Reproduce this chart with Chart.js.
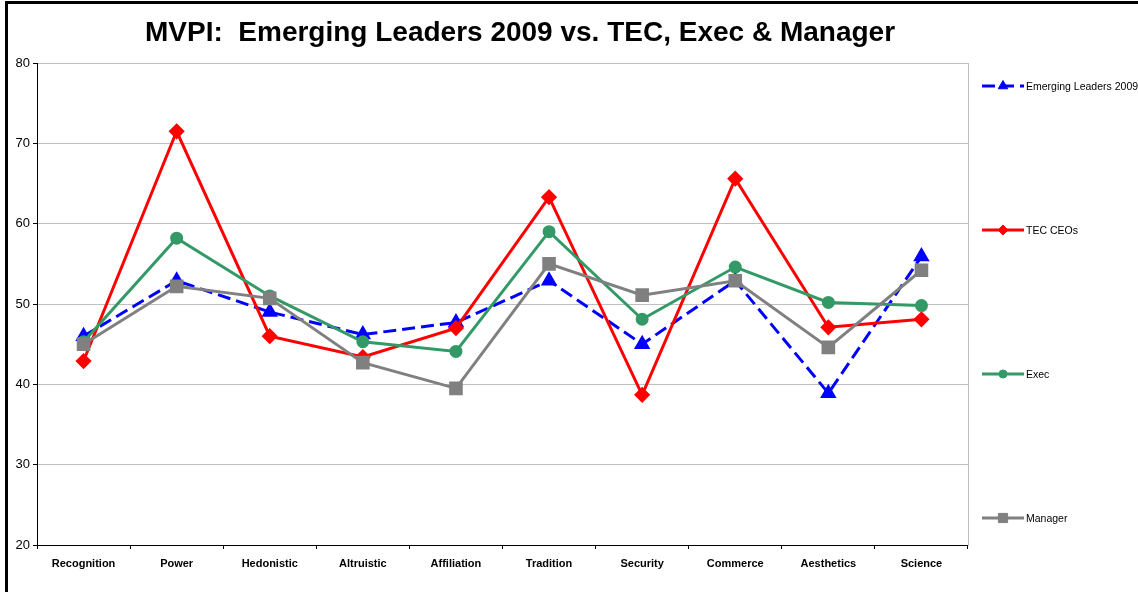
<!DOCTYPE html>
<html>
<head>
<meta charset="utf-8">
<script src="https://cdn.jsdelivr.net/npm/chart.js@4/dist/chart.umd.min.js"></script>
<style>
  html, body { margin: 0; padding: 0; background: #fff; overflow: hidden; }
  #wrap { position: relative; width: 1138px; height: 592px; }
  #frame { position: absolute; left: 5px; top: 1px; width: 2000px; height: 2000px;
           border-left: 3px solid #000; border-top: 3px solid #000; pointer-events: none; }
</style>
</head>
<body>
<div id="wrap">
  <canvas id="c" width="1138" height="592"></canvas>
  <div id="frame"></div>
</div>
<script>
const titleText = 'MVPI:  Emerging Leaders 2009 vs. TEC, Exec & Manager';
const categories = ['Recognition','Power','Hedonistic','Altruistic','Affiliation','Tradition','Security','Commerce','Aesthetics','Science'];
const seriesNames = ['Emerging Leaders 2009','TEC CEOs','Exec','Manager'];
const emergingLeaders = [46.0, 52.9, 49.0, 46.2, 47.7, 52.9, 45.0, 52.9, 38.9, 55.9];
const tecCEOs = [42.9, 71.5, 46.0, 43.4, 47.0, 63.3, 38.7, 65.6, 47.1, 48.1];
const execValues = [45.3, 58.2, 51.0, 45.3, 44.1, 59.0, 48.1, 54.6, 50.2, 49.8];
const managerValues = [45.0, 52.2, 50.7, 42.7, 39.5, 55.0, 51.1, 52.9, 44.6, 54.2];
const yMin = 20, yMax = 80, yStep = 10;

const legendY = [86, 230, 374, 518];

const legendPlugin = {
  id: 'sideLegend',
  afterDraw(chart) {
    const ctx = chart.ctx;
    chart.data.datasets.forEach((ds, i) => {
      const y = legendY[i];
      ctx.save();
      ctx.strokeStyle = ds.borderColor;
      ctx.lineWidth = ds.borderWidth;
      ctx.setLineDash(ds.borderDash || []);
      ctx.beginPath();
      ctx.moveTo(982, y);
      ctx.lineTo(1024, y);
      ctx.stroke();
      ctx.setLineDash([]);
      ctx.fillStyle = ds.pointBackgroundColor;
      ctx.strokeStyle = ds.pointBorderColor;
      ctx.lineWidth = 1;
      Chart.helpers.drawPoint(ctx, {pointStyle: ds.pointStyle, radius: ds.pointRadius - 1, rotation: 0, borderWidth: 1}, 1003, y);
      ctx.fillStyle = '#000';
      ctx.font = '10.5px "Liberation Sans", Arial, sans-serif';
      ctx.textBaseline = 'middle';
      ctx.textAlign = 'left';
      ctx.fillText(ds.label, 1026, y + 1);
      ctx.restore();
    });
  }
};

new Chart(document.getElementById('c'), {
  type: 'line',
  data: {
    labels: categories,
    datasets: [
      { label: seriesNames[0], data: emergingLeaders, borderColor: '#0000ff', backgroundColor: '#0000ff',
        pointBackgroundColor: '#0000ff', pointBorderColor: '#0000ff', borderWidth: 3, borderDash: [13, 6],
        pointStyle: 'triangle', pointRadius: 6.5, order: 3, tension: 0 },
      { label: seriesNames[1], data: tecCEOs, borderColor: '#ff0000', backgroundColor: '#ff0000',
        pointBackgroundColor: '#ff0000', pointBorderColor: '#ff0000', borderWidth: 3,
        pointStyle: 'rectRot', pointRadius: 6, order: 2, tension: 0 },
      { label: seriesNames[2], data: execValues, borderColor: '#339966', backgroundColor: '#339966',
        pointBackgroundColor: '#339966', pointBorderColor: '#339966', borderWidth: 3,
        pointStyle: 'circle', pointRadius: 5, order: 1, tension: 0 },
      { label: seriesNames[3], data: managerValues, borderColor: '#808080', backgroundColor: '#808080',
        pointBackgroundColor: '#808080', pointBorderColor: '#808080', borderWidth: 3,
        pointStyle: 'rect', pointRadius: 7.5, order: 0, tension: 0 }
    ]
  },
  options: {
    responsive: false,
    animation: false,
    events: [],
    layout: { padding: { left: 0, top: 0, right: 98, bottom: 0 } },
    plugins: {
      legend: { display: false },
      tooltip: { enabled: false },
      title: {
        display: true,
        text: titleText,
        color: '#000',
        font: { family: '"Liberation Sans", Arial, sans-serif', size: 28, weight: 'bold', lineHeight: 1.2 },
        padding: { top: 16.2, bottom: 13.2 }
      }
    },
    scales: {
      x: {
        offset: true,
        grid: { offset: true, drawOnChartArea: false, drawTicks: true, tickLength: 4, tickColor: '#000', color: '#000' },
        border: { display: true, color: '#000', width: 1 },
        ticks: { color: '#000', padding: 8, maxRotation: 0, autoSkip: false,
                 font: { family: '"Liberation Sans", Arial, sans-serif', size: 11, weight: 'bold' } },
        afterFit: s => { s.height = 47; }
      },
      y: {
        min: yMin, max: yMax,
        grid: { color: '#c0c0c0', lineWidth: 1, tickLength: 4, tickColor: '#000' },
        border: { display: true, color: '#000', width: 1 },
        ticks: { stepSize: yStep, color: '#000', padding: 3,
                 font: { family: '"Liberation Sans", Arial, sans-serif', size: 13 } },
        afterFit: s => { s.width = 37; }
      },
      yRight: {
        position: 'right',
        display: true,
        min: 0, max: 1,
        grid: { display: false, drawTicks: false },
        border: { display: true, color: '#c0c0c0', width: 1 },
        ticks: { display: false },
        afterFit: s => { s.width = 72; }
      }
    }
  },
  plugins: [legendPlugin]
});
</script>
</body>
</html>
